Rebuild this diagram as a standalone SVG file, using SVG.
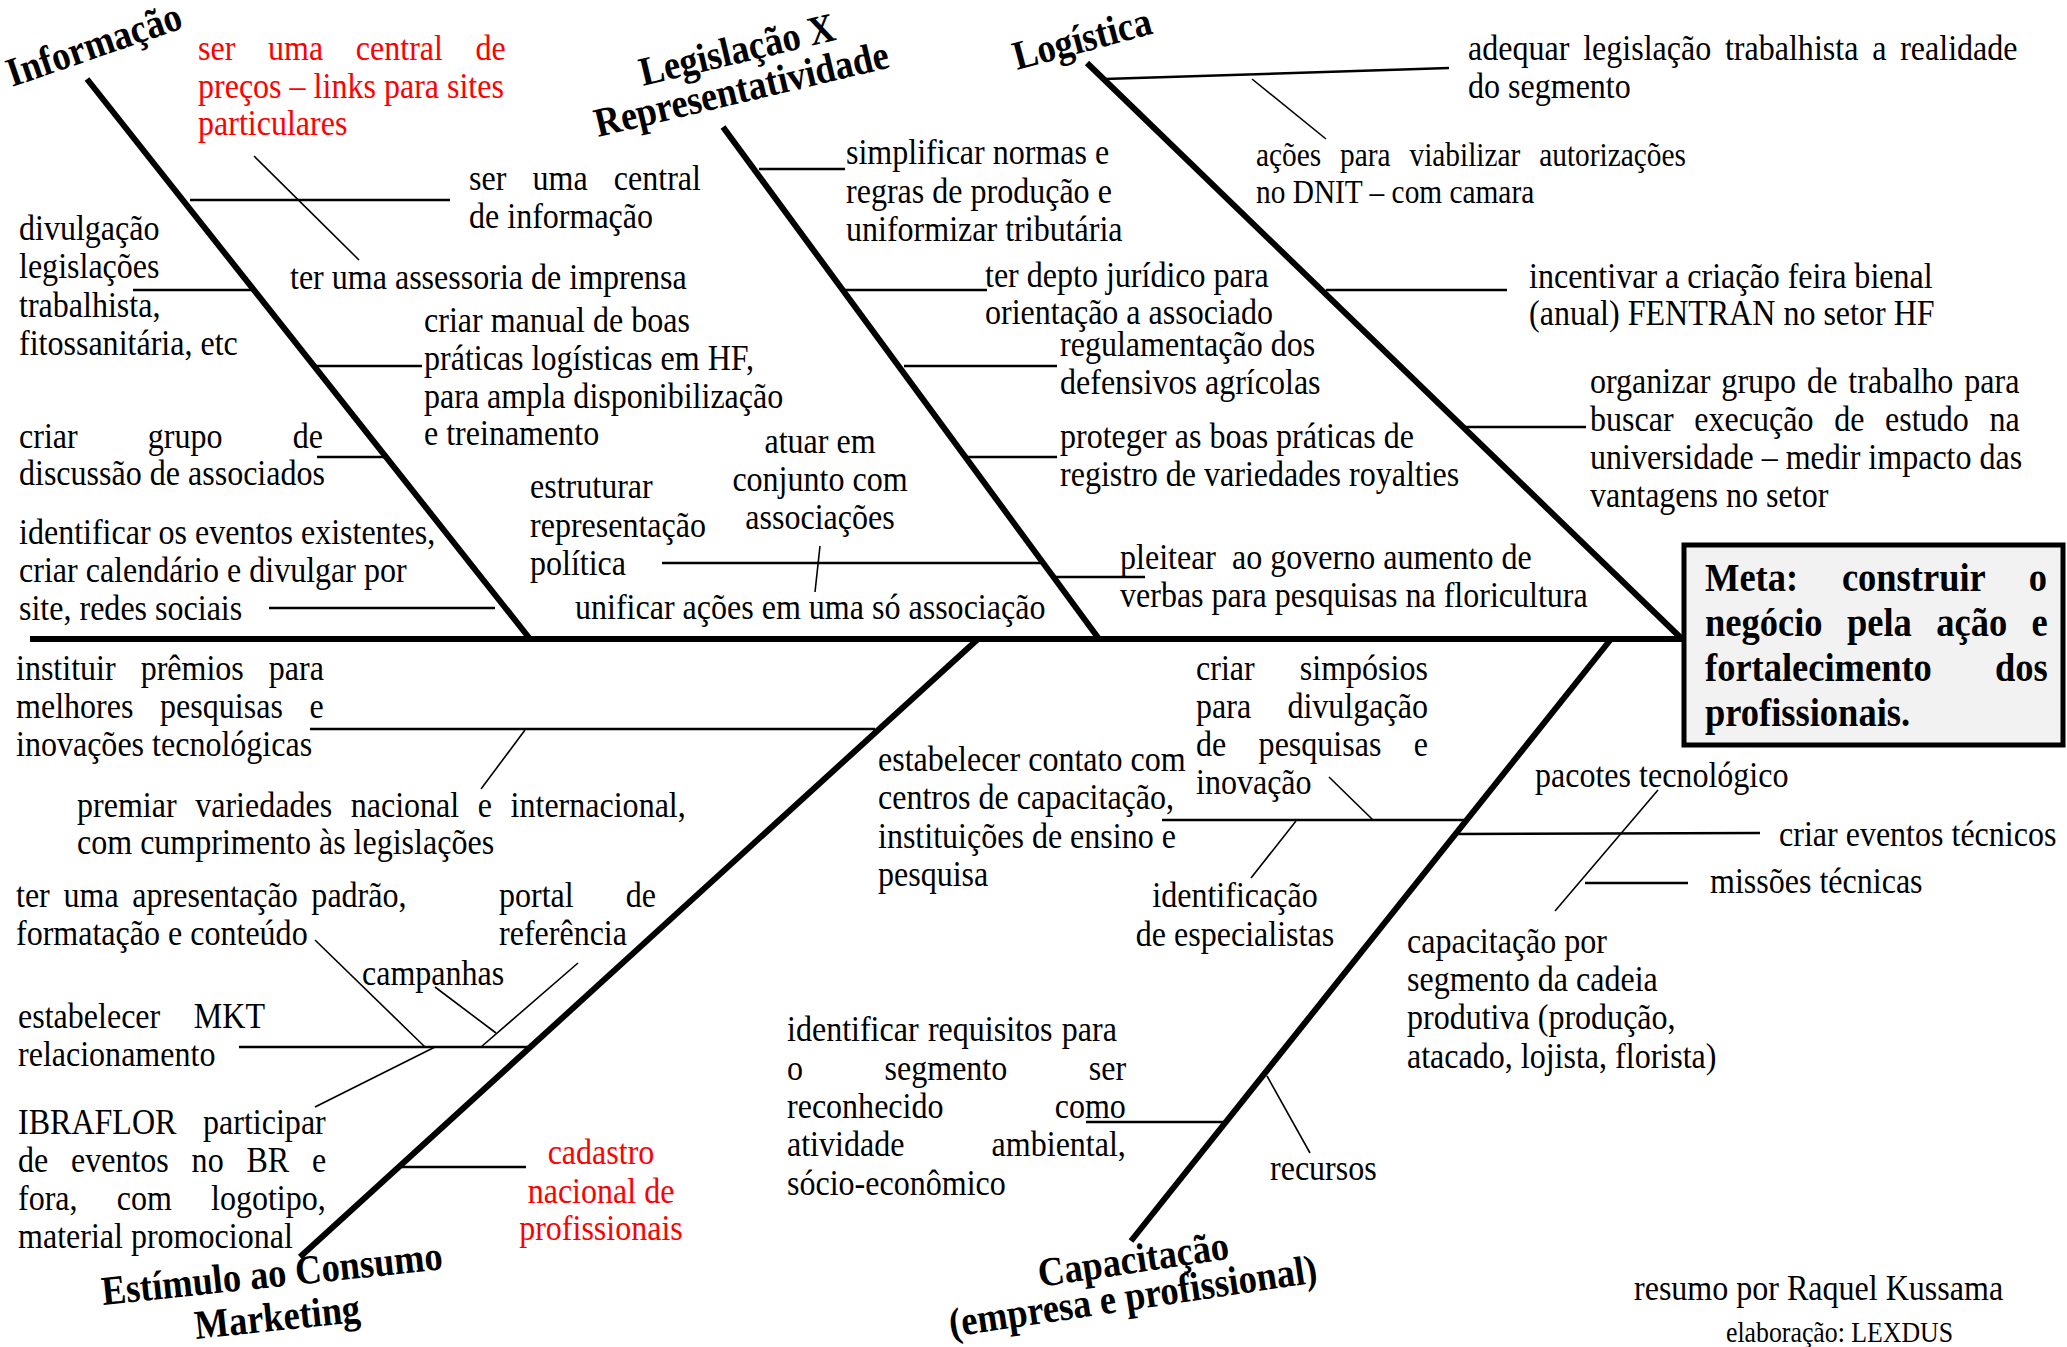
<svg xmlns="http://www.w3.org/2000/svg" width="2067" height="1347" viewBox="0 0 2067 1347">
<style>
.t{font-family:"Liberation Serif","Times New Roman",serif;font-size:36px;fill:#000}
.sm{font-size:33px}
.xs{font-size:29px}
.r{fill:#ff0000}
.h{font-family:"Liberation Serif","Times New Roman",serif;font-size:41px;font-weight:bold;fill:#000}
.m{font-family:"Liberation Serif","Times New Roman",serif;font-size:41px;font-weight:bold;fill:#000}
.mid{text-anchor:middle}
.b{stroke:#000;stroke-width:6;fill:none}
.s{stroke:#000;stroke-width:2.5;fill:none}
.d{stroke:#000;stroke-width:1.6;fill:none}
</style>
<rect x="0" y="0" width="2067" height="1347" fill="#fff"/>
<g id="connectors">
<line class="b" x1="30" y1="639" x2="1684" y2="639" stroke-width="6.5"/>
<line class="b" x1="87" y1="79" x2="530" y2="639"/>
<line class="b" x1="723" y1="127" x2="1099" y2="639"/>
<line class="b" x1="1087" y1="63" x2="1682" y2="639"/>
<line class="b" x1="300" y1="1257" x2="978" y2="639"/>
<line class="b" x1="1131" y1="1241" x2="1611" y2="639"/>
<line class="s" x1="190" y1="200" x2="450" y2="200"/>
<line class="s" x1="133" y1="290" x2="254" y2="290"/>
<line class="s" x1="316" y1="366" x2="422" y2="366"/>
<line class="s" x1="317" y1="457" x2="385" y2="457"/>
<line class="s" x1="269" y1="608" x2="495" y2="608"/>
<line class="s" x1="759" y1="169" x2="845" y2="169"/>
<line class="s" x1="845" y1="290" x2="987" y2="290"/>
<line class="s" x1="904" y1="366" x2="1057" y2="366"/>
<line class="s" x1="968" y1="457" x2="1057" y2="457"/>
<line class="s" x1="662" y1="563" x2="1043" y2="563"/>
<line class="s" x1="1056" y1="577" x2="1145" y2="577"/>
<line class="s" x1="1104" y1="79" x2="1449" y2="68"/>
<line class="s" x1="1326" y1="290" x2="1507" y2="290"/>
<line class="s" x1="1462" y1="427" x2="1586" y2="427"/>
<line class="s" x1="310" y1="729" x2="875" y2="729"/>
<line class="s" x1="239" y1="1047" x2="530" y2="1047"/>
<line class="s" x1="400" y1="1167" x2="526" y2="1167"/>
<line class="s" x1="1162" y1="820" x2="1464" y2="820"/>
<line class="s" x1="1458" y1="834" x2="1760" y2="833"/>
<line class="s" x1="1585" y1="883" x2="1688" y2="883"/>
<line class="s" x1="1086" y1="1122" x2="1224" y2="1122"/>
<line class="d" x1="254" y1="156" x2="359" y2="260"/>
<line class="d" x1="1252" y1="79" x2="1326" y2="139"/>
<line class="d" x1="820" y1="546" x2="815" y2="592"/>
<line class="d" x1="525" y1="730" x2="481" y2="789"/>
<line class="d" x1="315" y1="940" x2="425" y2="1047"/>
<line class="d" x1="435" y1="987" x2="496" y2="1033"/>
<line class="d" x1="578" y1="963" x2="481" y2="1047"/>
<line class="d" x1="435" y1="1047" x2="315" y2="1107"/>
<line class="d" x1="1329" y1="777" x2="1373" y2="820"/>
<line class="d" x1="1296" y1="821" x2="1251" y2="878"/>
<line class="d" x1="1658" y1="790" x2="1555" y2="911"/>
<line class="d" x1="1267" y1="1076" x2="1310" y2="1153"/>
</g>
<g id="meta">
<rect x="1684" y="545" width="379" height="200" fill="#f2f2f2" stroke="#000" stroke-width="5"/>
<text class="m" transform="translate(1705,591) scale(.89 1)"><tspan x="0" y="0" style="word-spacing:38.9px">Meta: construir o</tspan><tspan x="0" dy="45" style="word-spacing:17.2px">negócio pela ação e</tspan><tspan x="0" dy="45" style="word-spacing:60.7px">fortalecimento dos</tspan><tspan x="0" dy="45">profissionais.</tspan></text>
</g>
<g id="head-informacao"><text class="h" transform="translate(12,87) rotate(-19) scale(.89 1)">Informação</text></g>
<g id="head-legislacao"><text class="h" transform="translate(643,86) rotate(-13.4) scale(.89 1)">Legislação X</text><text class="h" transform="translate(598,137) rotate(-13.4) scale(.89 1)">Representatividade</text></g>
<g id="head-logistica"><text class="h" transform="translate(1017,70) rotate(-15) scale(.89 1)">Logística</text></g>
<g id="head-estimulo"><text class="h" transform="translate(103,1305) rotate(-6) scale(.89 1)">Estímulo ao Consumo</text><text class="h" transform="translate(196,1339) rotate(-6) scale(.89 1)">Marketing</text></g>
<g id="head-capacitacao"><text class="h" transform="translate(1040,1287) rotate(-8.5) scale(.89 1)">Capacitação</text><text class="h" transform="translate(951,1337) rotate(-8.5) scale(.89 1)">(empresa e profissional)</text></g>
<g id="n-precos"><text class="t r" transform="translate(198,60) scale(.89 1)"><tspan x="0" y="0" style="word-spacing:27.7px">ser uma central de</tspan><tspan x="0" dy="38">preços – links para sites</tspan><tspan x="0" dy="37">particulares</tspan></text></g>
<g id="n-central-info"><text class="t" transform="translate(469,190) scale(.89 1)"><tspan x="0" y="0" style="word-spacing:20.4px">ser uma central</tspan><tspan x="0" dy="38">de informação</tspan></text></g>
<g id="n-assessoria"><text class="t" transform="translate(290,289) scale(.89 1)">ter uma assessoria de imprensa</text></g>
<g id="n-divulgacao"><text class="t" transform="translate(19,240) scale(.89 1)"><tspan x="0" y="0">divulgação</tspan><tspan x="0" dy="38">legislações</tspan><tspan x="0" dy="39">trabalhista,</tspan><tspan x="0" dy="38">fitossanitária, etc</tspan></text></g>
<g id="n-manual"><text class="t" transform="translate(424,332) scale(.89 1)"><tspan x="0" y="0">criar manual de boas</tspan><tspan x="0" dy="38">práticas logísticas em HF,</tspan><tspan x="0" dy="38">para ampla disponibilização</tspan><tspan x="0" dy="37">e treinamento</tspan></text></g>
<g id="n-grupo"><text class="t" transform="translate(19,448) scale(.89 1)"><tspan x="0" y="0" style="word-spacing:69.8px">criar grupo de</tspan><tspan x="0" dy="37">discussão de associados</tspan></text></g>
<g id="n-eventos"><text class="t" transform="translate(19,544) scale(.89 1)"><tspan x="0" y="0">identificar os eventos existentes,</tspan><tspan x="0" dy="38">criar calendário e divulgar por</tspan><tspan x="0" dy="38">site, redes sociais</tspan></text></g>
<g id="n-simplificar"><text class="t" transform="translate(846,164) scale(.89 1)"><tspan x="0" y="0">simplificar normas e</tspan><tspan x="0" dy="39">regras de produção e</tspan><tspan x="0" dy="38">uniformizar tributária</tspan></text></g>
<g id="n-juridico"><text class="t" transform="translate(985,287) scale(.89 1)"><tspan x="0" y="0">ter depto jurídico para</tspan><tspan x="0" dy="37">orientação a associado</tspan></text></g>
<g id="n-defensivos"><text class="t" transform="translate(1060,356) scale(.89 1)"><tspan x="0" y="0">regulamentação dos</tspan><tspan x="0" dy="38">defensivos agrícolas</tspan></text></g>
<g id="n-royalties"><text class="t" transform="translate(1060,448) scale(.89 1)"><tspan x="0" y="0">proteger as boas práticas de</tspan><tspan x="0" dy="38">registro de variedades royalties</tspan></text></g>
<g id="n-estruturar"><text class="t" transform="translate(530,498) scale(.89 1)"><tspan x="0" y="0">estruturar</tspan><tspan x="0" dy="39">representação</tspan><tspan x="0" dy="38">política</tspan></text></g>
<g id="n-atuar"><text class="t mid" transform="translate(820,453) scale(.89 1)"><tspan x="0" y="0">atuar em</tspan><tspan x="0" dy="38">conjunto com</tspan><tspan x="0" dy="38">associações</tspan></text></g>
<g id="n-unificar"><text class="t" transform="translate(575,619) scale(.89 1)">unificar ações em uma só associação</text></g>
<g id="n-pleitear"><text class="t" transform="translate(1120,569) scale(.89 1)"><tspan x="0" y="0">pleitear&#160; ao governo aumento de</tspan><tspan x="0" dy="38">verbas para pesquisas na floricultura</tspan></text></g>
<g id="n-adequar"><text class="t" transform="translate(1468,60) scale(.89 1)"><tspan x="0" y="0" style="word-spacing:6.5px">adequar legislação trabalhista a realidade</tspan><tspan x="0" dy="38">do segmento</tspan></text></g>
<g id="n-dnit"><text class="t sm" transform="translate(1256,166) scale(.89 1)"><tspan x="0" y="0" style="word-spacing:13px">ações para viabilizar autorizações</tspan><tspan x="0" dy="37">no DNIT – com camara</tspan></text></g>
<g id="n-feira"><text class="t" transform="translate(1529,288) scale(.89 1)"><tspan x="0" y="0">incentivar a criação feira bienal</tspan><tspan x="0" dy="37">(anual) FENTRAN no setor HF</tspan></text></g>
<g id="n-organizar"><text class="t" transform="translate(1590,393) scale(.89 1)"><tspan x="0" y="0" style="word-spacing:3.4px">organizar grupo de trabalho para</tspan><tspan x="0" dy="38" style="word-spacing:14.3px">buscar execução de estudo na</tspan><tspan x="0" dy="38">universidade – medir impacto das</tspan><tspan x="0" dy="38">vantagens no setor</tspan></text></g>
<g id="n-premios"><text class="t" transform="translate(16,680) scale(.89 1)"><tspan x="0" y="0" style="word-spacing:19.1px">instituir prêmios para</tspan><tspan x="0" dy="38" style="word-spacing:21px">melhores pesquisas e</tspan><tspan x="0" dy="38">inovações tecnológicas</tspan></text></g>
<g id="n-premiar"><text class="t" transform="translate(77,817) scale(.89 1)"><tspan x="0" y="0" style="word-spacing:11.9px">premiar variedades nacional e internacional,</tspan><tspan x="0" dy="37">com cumprimento às legislações</tspan></text></g>
<g id="n-apresentacao"><text class="t" transform="translate(16,907) scale(.89 1)"><tspan x="0" y="0" style="word-spacing:6.4px">ter uma apresentação padrão,</tspan><tspan x="0" dy="38">formatação e conteúdo</tspan></text></g>
<g id="n-portal"><text class="t" transform="translate(499,907) scale(.89 1)"><tspan x="0" y="0" style="word-spacing:49.5px">portal de</tspan><tspan x="0" dy="38">referência</tspan></text></g>
<g id="n-campanhas"><text class="t" transform="translate(362,985) scale(.89 1)">campanhas</text></g>
<g id="n-mkt"><text class="t" transform="translate(18,1028) scale(.89 1)"><tspan x="0" y="0" style="word-spacing:28.7px">estabelecer MKT</tspan><tspan x="0" dy="38">relacionamento</tspan></text></g>
<g id="n-ibraflor"><text class="t" transform="translate(18,1134) scale(.89 1)"><tspan x="0" y="0" style="word-spacing:21px">IBRAFLOR participar</tspan><tspan x="0" dy="38" style="word-spacing:16.6px">de eventos no BR e</tspan><tspan x="0" dy="38" style="word-spacing:35px">fora, com logotipo,</tspan><tspan x="0" dy="38">material promocional</tspan></text></g>
<g id="n-cadastro"><text class="t r mid" transform="translate(601,1164) scale(.89 1)"><tspan x="0" y="0">cadastro</tspan><tspan x="0" dy="39">nacional de</tspan><tspan x="0" dy="37">profissionais</tspan></text></g>
<g id="n-simposios"><text class="t" transform="translate(1196,680) scale(.89 1)"><tspan x="0" y="0" style="word-spacing:41.7px">criar simpósios</tspan><tspan x="0" dy="38" style="word-spacing:31.8px">para divulgação</tspan><tspan x="0" dy="38" style="word-spacing:27.4px">de pesquisas e</tspan><tspan x="0" dy="38">inovação</tspan></text></g>
<g id="n-contato"><text class="t" transform="translate(878,771) scale(.89 1)"><tspan x="0" y="0">estabelecer contato com</tspan><tspan x="0" dy="38">centros de capacitação,</tspan><tspan x="0" dy="39">instituições de ensino e</tspan><tspan x="0" dy="38">pesquisa</tspan></text></g>
<g id="n-especialistas"><text class="t mid" transform="translate(1235,907) scale(.89 1)"><tspan x="0" y="0">identificação</tspan><tspan x="0" dy="39">de especialistas</tspan></text></g>
<g id="n-pacotes"><text class="t" transform="translate(1535,787) scale(.89 1)">pacotes tecnológico</text></g>
<g id="n-eventos-tec"><text class="t" transform="translate(1779,846) scale(.89 1)">criar eventos técnicos</text></g>
<g id="n-missoes"><text class="t" transform="translate(1710,893) scale(.89 1)">missões técnicas</text></g>
<g id="n-segmento"><text class="t" transform="translate(1407,953) scale(.89 1)"><tspan x="0" y="0">capacitação por</tspan><tspan x="0" dy="38">segmento da cadeia</tspan><tspan x="0" dy="38">produtiva (produção,</tspan><tspan x="0" dy="39">atacado, lojista, florista)</tspan></text></g>
<g id="n-requisitos"><text class="t" transform="translate(787,1041) scale(.89 1)"><tspan x="0" y="0" style="word-spacing:1.5px">identificar requisitos para</tspan><tspan x="0" dy="39" style="word-spacing:82.6px">o segmento ser</tspan><tspan x="0" dy="38" style="word-spacing:116px">reconhecido como</tspan><tspan x="0" dy="38" style="word-spacing:89px">atividade ambiental,</tspan><tspan x="0" dy="39">sócio-econômico</tspan></text></g>
<g id="n-recursos"><text class="t" transform="translate(1270,1180) scale(.89 1)">recursos</text></g>
<g id="credits"><text class="t" transform="translate(1634,1300) scale(.89 1)">resumo por Raquel Kussama</text><text class="t xs" transform="translate(1726,1342) scale(.89 1)">elaboração: LEXDUS</text></g>
</svg>
